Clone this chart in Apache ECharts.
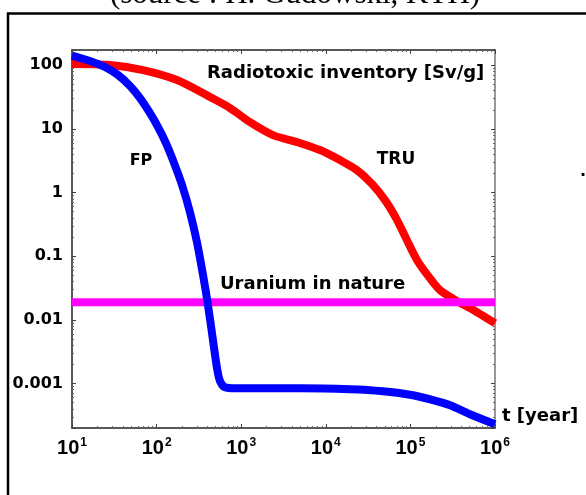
<!DOCTYPE html>
<html>
<head>
<meta charset="utf-8">
<script src="https://cdn.jsdelivr.net/npm/echarts@6/dist/echarts.min.js"></script>
<style>
html,body{margin:0;padding:0;background:#fff;}
#chart{width:586px;height:495px;}
</style>
</head>
<body>
<div id="chart"></div>
<script>
// ---- data ----
const xTickExps = ['1', '2', '3', '4', '5', '6'];
const yTickLabels = ['0.001', '0.01', '0.1', '1', '10', '100'];

const tYearsTRU = [10, 28.1, 69.1, 174, 428, 737, 1270, 2377, 4567, 8530, 14700, 23400, 35200, 50100, 67600, 88700, 120000, 170000, 224000, 356000, 613000, 1000000];
const truValues = [105, 101, 84.2, 58.7, 31.7, 21.3, 12.8, 8.01, 6.22, 4.66, 3.24, 2.25, 1.36, 0.761, 0.397, 0.192, 0.0867, 0.0452, 0.0293, 0.0197, 0.0132, 0.00886];

const tYearsFP = [10, 16.3, 24.5, 35.0, 48.5, 63.7, 83.6, 104, 129, 161, 200, 248, 300, 354, 405, 464, 518, 562, 643, 845, 4950, 19300, 47400, 98900, 185000, 294000, 506000, 1000000];
const fpValues = [142, 117, 94.0, 70.3, 47.2, 30.5, 17.7, 10.7, 6.0, 2.91, 1.31, 0.493, 0.166, 0.0504, 0.0170, 0.00479, 0.00174, 0.00109, 0.000873, 0.000842, 0.000842, 0.000813, 0.000756, 0.000666, 0.000548, 0.000455, 0.000329, 0.000229];

const uraniumT = [10, 1000000];
const uraniumValues = [0.019, 0.019];

const zip = (a, b) => a.map((v, i) => [v, b[i]]);

function expOf(v) {
  const e = Math.log10(v);
  const r = Math.round(e);
  return Math.abs(e - r) < 1e-6 ? r : null;
}

const chart = echarts.init(document.getElementById('chart'), null, {renderer: 'canvas'});

const axisCommon = {
  type: 'log',
  logBase: 10,
  splitLine: {show: false},
  axisLine: {show: true, lineStyle: {color: '#222', width: 1.5}},
  axisTick: {show: true, inside: true, length: 4, lineStyle: {color: '#444', width: 1}},
  minorTick: {show: true, splitNumber: 9, length: 2, lineStyle: {color: '#666', width: 1}},
  minorSplitLine: {show: false}
};

const option = {
  animation: false,
  backgroundColor: '#fff',
  grid: {left: 72, top: 50, right: 91, bottom: 67, containLabel: false},
  xAxis: [
    Object.assign({}, axisCommon, {
      min: 10, max: 1000000, position: 'bottom',
      axisLabel: {
        margin: 9,
        formatter: function (v) {
          const e = expOf(v);
          if (e === null) return '';
          const idx = e - 1;
          if (idx < 0 || idx >= xTickExps.length) return '';
          return '{b|10}{s|' + xTickExps[idx] + '}';
        },
        rich: {
          b: {fontFamily: 'Liberation Sans', fontWeight: 'bold', fontSize: 20, color: '#000'},
          s: {fontFamily: 'Liberation Sans', fontWeight: 'bold', fontSize: 12, color: '#000', verticalAlign: 'top', padding: [0, 0, 10, 1]}
        }
      }
    }),
    Object.assign({}, axisCommon, {
      min: 10, max: 1000000, position: 'top',
      axisLabel: {show: false}
    })
  ],
  yAxis: [
    Object.assign({}, axisCommon, {
      min: 0.0002, max: 174, position: 'left',
      axisLabel: {
        margin: 9,
        fontFamily: 'DejaVu Sans', fontWeight: 'bold', fontSize: 16, color: '#000',
        formatter: function (v) {
          const e = expOf(v);
          if (e === null) return '';
          const idx = e + 3;
          if (idx < 0 || idx >= yTickLabels.length) return '';
          return yTickLabels[idx];
        }
      }
    }),
    Object.assign({}, axisCommon, {
      min: 0.0002, max: 174, position: 'right',
      axisLine: {show: true, lineStyle: {color: '#777', width: 1.5}},
      axisLabel: {show: false}
    })
  ],
  series: [
    {
      name: 'TRU', type: 'line', data: zip(tYearsTRU, truValues),
      showSymbol: false, smooth: 0.3,
      lineStyle: {color: '#ff0000', width: 8}, z: 2
    },
    {
      name: 'Uranium in nature', type: 'line', data: zip(uraniumT, uraniumValues),
      showSymbol: false,
      lineStyle: {color: '#ff00ff', width: 8}, z: 3
    },
    {
      name: 'FP', type: 'line', data: zip(tYearsFP, fpValues),
      showSymbol: false, smooth: 0.3,
      lineStyle: {color: '#0000ff', width: 8}, z: 4
    }
  ],
  graphic: [
    {type: 'rect', shape: {x: 8, y: 13.5, width: 640, height: 600}, style: {fill: 'none', stroke: '#000', lineWidth: 2.5}, z: 10},
    {type: 'text', x: 295, y: -5, style: {text: '(source : H. Gudowski, KTH)', font: '31px "Liberation Serif"', fill: '#000', align: 'center', verticalAlign: 'middle'}, z: 10},
    {type: 'text', x: 207, y: 73, style: {text: 'Radiotoxic inventory [Sv/g]', font: 'bold 18px "DejaVu Sans"', fill: '#000', align: 'left', verticalAlign: 'middle'}, z: 10},
    {type: 'text', x: 141, y: 161, style: {text: 'FP', font: 'bold 16px "DejaVu Sans"', fill: '#000', align: 'center', verticalAlign: 'middle'}, z: 10},
    {type: 'text', x: 396, y: 160, style: {text: 'TRU', font: 'bold 17px "DejaVu Sans"', fill: '#000', align: 'center', verticalAlign: 'middle'}, z: 10},
    {type: 'text', x: 220, y: 284, style: {text: 'Uranium in nature', font: 'bold 18px "DejaVu Sans"', fill: '#000', align: 'left', verticalAlign: 'middle'}, z: 10},
    {type: 'text', x: 502, y: 416, style: {text: 't [year]', font: 'bold 18px "DejaVu Sans"', fill: '#000', align: 'left', verticalAlign: 'middle'}, z: 10},
    {type: 'text', x: 583, y: 172, style: {text: '.', font: 'bold 16px "DejaVu Sans"', fill: '#000', align: 'center', verticalAlign: 'middle'}, z: 10}
  ]
};

chart.setOption(option);
</script>
</body>
</html>
